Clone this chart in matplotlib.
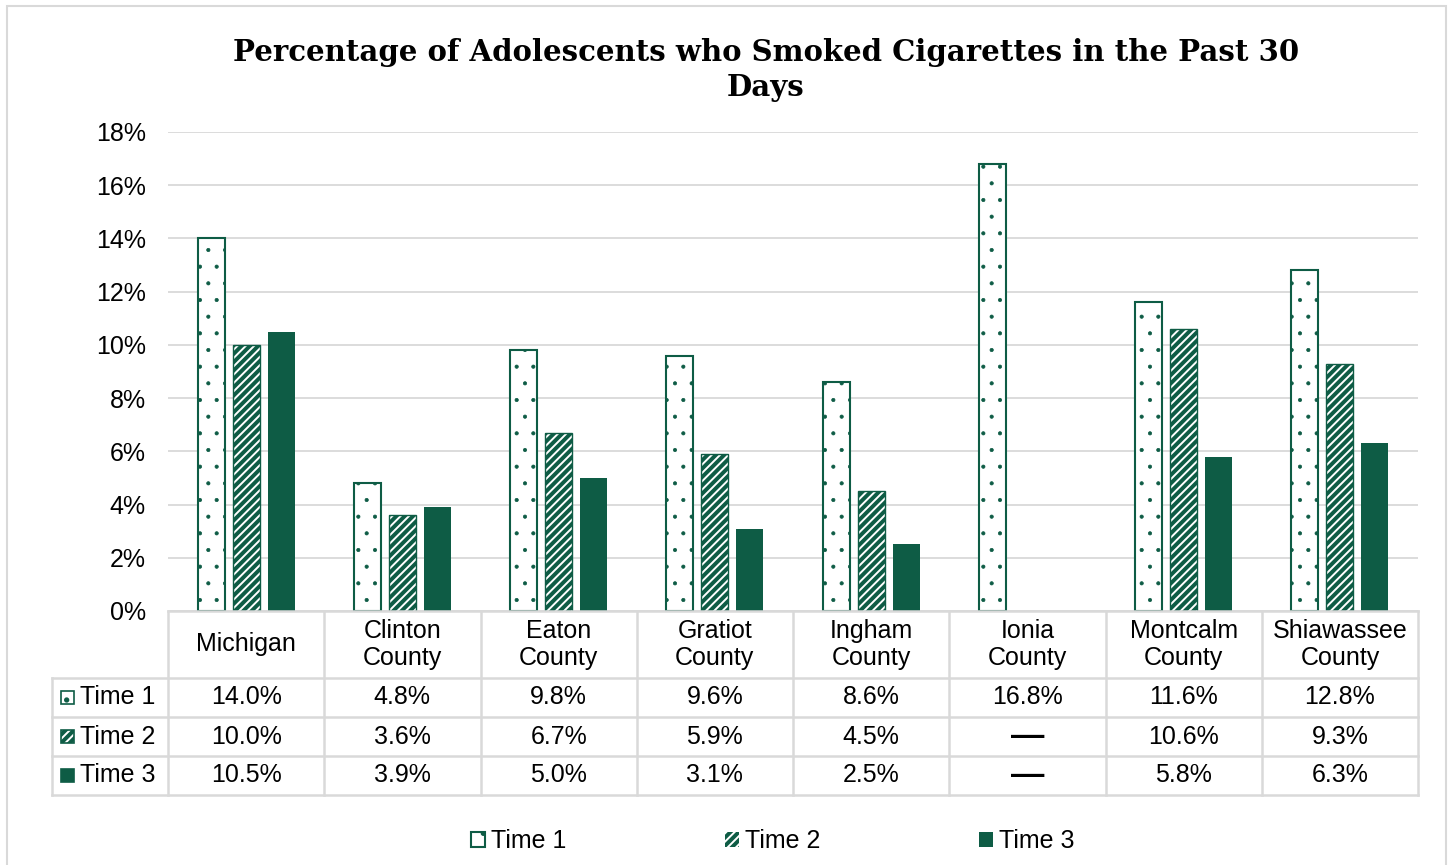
import matplotlib.pyplot as plt
import numpy as np
from matplotlib.patches import Rectangle
from matplotlib.ticker import PercentFormatter

categories = ["Michigan", "Clinton\nCounty", "Eaton\nCounty", "Gratiot\nCounty",
              "Ingham\nCounty", "Ionia\nCounty", "Montcalm\nCounty", "Shiawassee\nCounty"]
series = ["Time 1", "Time 2", "Time 3"]
time1 = [14.0, 4.8, 9.8, 9.6, 8.6, 16.8, 11.6, 12.8]
time2 = [10.0, 3.6, 6.7, 5.9, 4.5, np.nan, 10.6, 9.3]
time3 = [10.5, 3.9, 5.0, 3.1, 2.5, np.nan, 5.8, 6.3]

green = "#0e5c45"
grid = "#d9d9d9"

plt.rcParams['font.family'] = ['Liberation Sans', 'DejaVu Sans']

fig = plt.figure(figsize=(14.48, 8.65), dpi=100)
ax = fig.add_axes([168/1448, 254/865, 1250/1448, 479/865])

x = np.arange(len(categories))
off = 0.224
w = 0.173
plt.rcParams['hatch.linewidth'] = 0.5
b1 = ax.bar(x - off, time1, w, facecolor="white", edgecolor=green, hatch=".", lw=1.5, label=series[0])
plt.rcParams['hatch.linewidth'] = 1.4
b2 = ax.bar(x, time2, w, facecolor=green, edgecolor="white", hatch="////", lw=0, label=series[1])
ax.bar(x, time2, w, fill=False, edgecolor=green, lw=1)
b3 = ax.bar(x + off, time3, w, color=green, label=series[2])

ax.set_xlim(-0.5, len(categories) - 0.5)
ax.set_ylim(0, 18)
ax.set_yticks(np.arange(0, 19, 2))
ax.yaxis.set_major_formatter(PercentFormatter(decimals=0))
ax.set_xticks([])
ax.tick_params(axis="y", length=0, pad=16, labelsize=18)
ax.grid(axis="y", color=grid, lw=1.3)
ax.set_axisbelow(True)
for s in ax.spines.values():
    s.set_visible(False)

# data table under the bars (x in data units, y in axes fraction)
tr = ax.get_xaxis_transform()
H = 479.0
def ay(px):
    return -px / H   # pixels below the axes bottom

head_h, row_h = 67, 39
lab_left = -0.5 - 116 / 156.25
lc = dict(color=grid, lw=1.8, transform=tr, clip_on=False)
ax.plot([-0.5, len(categories) - 0.5], [0, 0], **lc)
for k in range(4):
    yy = ay(head_h + row_h * k)
    ax.plot([lab_left, len(categories) - 0.5], [yy, yy], **lc)
for k in range(len(categories) + 1):
    ax.plot([k - 0.5, k - 0.5], [0, ay(head_h + 3 * row_h)], **lc)
ax.plot([lab_left, lab_left], [ay(head_h), ay(head_h + 3 * row_h)], **lc)

for i, c in enumerate(categories):
    ax.text(i, ay(head_h / 2), c, ha="center", va="center", fontsize=18,
            transform=tr, clip_on=False, linespacing=1.15)

handles = [b1[0], b2[0], b3[0]]
for r, (name, vals) in enumerate(zip(series, (time1, time2, time3))):
    yc = ay(head_h + row_h * r + row_h / 2)
    for i, v in enumerate(vals):
        if np.isnan(v):
            ax.text(i, yc, "—", ha="center", va="center", fontsize=24,
                    fontweight="bold", transform=tr, clip_on=False)
        else:
            ax.text(i, yc, f"{v:.1f}%", ha="center", va="center", fontsize=18,
                    transform=tr, clip_on=False)
    ax.text(-0.5 - (168 - 80) / 156.25, yc, name, ha="left", va="center",
            fontsize=18, transform=tr, clip_on=False)
    h = handles[r]
    sx, sy = -0.5 - (168 - 61) / 156.25, yc - 6.5 / H
    ax.add_patch(Rectangle((sx, sy), 13 / 156.25, 13 / H,
                           transform=tr, clip_on=False, lw=0,
                           facecolor=h.get_facecolor(), edgecolor=h.get_edgecolor(),
                           hatch=h.get_hatch()))
    ax.add_patch(Rectangle((sx, sy), 13 / 156.25, 13 / H, transform=tr,
                           clip_on=False, fill=False, edgecolor=green, lw=1.2))

fig.legend(handles=handles, labels=series, loc="center", bbox_to_anchor=(773/1448, 24/865),
           ncol=3, frameon=False, fontsize=18, handlelength=0.55, handleheight=0.55,
           handletextpad=0.25, columnspacing=6.35)

fig.text(766/1448, 1 - 38/865,
         "Percentage of Adolescents who Smoked Cigarettes in the Past 30\nDays",
         ha="center", va="top", fontsize=21, fontweight="bold",
         family="DejaVu Serif", linespacing=1.25)

fig.patches.append(Rectangle((7/1448, -0.1), 1439/1448, 1.1 - 6/865,
                             transform=fig.transFigure, fill=False,
                             edgecolor=grid, lw=1.5))

fig.savefig("out.png", dpi=100)
